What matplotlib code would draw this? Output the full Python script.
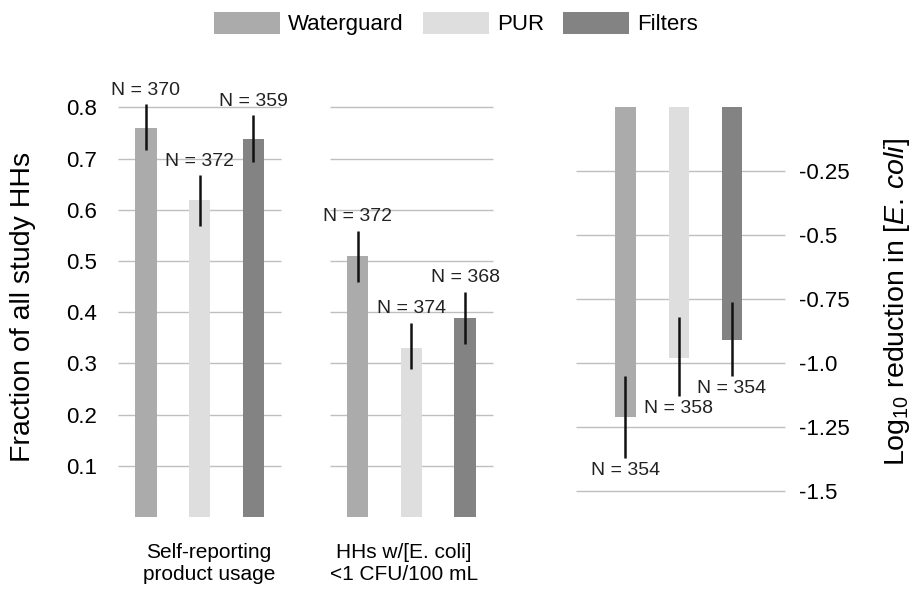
import matplotlib
matplotlib.use("Agg")
import matplotlib.pyplot as plt
from matplotlib.patches import Patch

plt.rcParams['font.family'] = ['Liberation Sans', 'DejaVu Sans']
plt.rcParams['mathtext.fontset'] = 'custom'
plt.rcParams['mathtext.rm'] = 'Liberation Sans'
plt.rcParams['mathtext.it'] = 'Liberation Sans:italic'

# ---------------- data ----------------
products = ["Waterguard", "PUR", "Filters"]
colors = ["#ababab", "#dedede", "#838383"]

left_categories = ["Self-reporting\nproduct usage", "HHs w/[E. coli]\n<1 CFU/100 mL"]
usage_vals = [0.76, 0.62, 0.738]
usage_lo = [0.716, 0.568, 0.693]
usage_hi = [0.806, 0.667, 0.784]
usage_n = [370, 372, 359]

ecoli_vals = [0.51, 0.33, 0.389]
ecoli_lo = [0.459, 0.289, 0.339]
ecoli_hi = [0.559, 0.379, 0.440]
ecoli_n = [372, 374, 368]

logred_vals = [-1.21, -0.979, -0.909]
logred_lo = [-1.37, -1.129, -1.05]
logred_hi = [-1.05, -0.821, -0.762]
logred_n = [354, 358, 354]

left_ticks = [0.1, 0.2, 0.3, 0.4, 0.5, 0.6, 0.7, 0.8]
right_ticks = [-0.25, -0.5, -0.75, -1.0, -1.25, -1.5]
right_ticklabels = ["-0.25", "-0.5", "-0.75", "-1.0", "-1.25", "-1.5"]

# ---------------- figure ----------------
W, H = 914, 592
fig = plt.figure(figsize=(W / 100, H / 100), dpi=100)

def px_axes(x0, y0, x1, y1):
    return fig.add_axes([x0 / W, 1 - y1 / H, (x1 - x0) / W, (y1 - y0) / H])

grid_c = "#bfbfbf"
bw = 0.40
half = 1.52
g_centers = [0.0, 3.94]

# Left panel
axL = px_axes(118, 107.3, 493, 517.2)
axL.set_xlim(-half, g_centers[1] + half)
axL.set_ylim(0, 0.8)
for s in axL.spines.values():
    s.set_visible(False)
axL.set_xticks([])
axL.set_yticks(left_ticks)
axL.set_yticklabels([f"{t:.1f}" for t in left_ticks])
axL.tick_params(axis='y', length=0, pad=15, labelsize=16)
for g in g_centers:
    axL.hlines(left_ticks, g - half, g + half, color=grid_c, lw=1, zorder=0, clip_on=False)

groups = [(usage_vals, usage_lo, usage_hi, usage_n), (ecoli_vals, ecoli_lo, ecoli_hi, ecoli_n)]
for g, (vals, lo, hi, ns) in zip(g_centers, groups):
    xs = [g - 1, g, g + 1]
    axL.bar(xs, vals, width=bw, color=colors, zorder=2)
    axL.vlines(xs, lo, hi, color="#111111", lw=1.8, zorder=3, clip_on=False)
    for x, h, n in zip(xs, hi, ns):
        axL.annotate(f"N = {n}", (x, h), xytext=(0, 4), textcoords="offset points",
                     ha="center", va="bottom", fontsize=14, color="#222222",
                     annotation_clip=False)

label_off = [0.17, -0.14]
for g, off, lab in zip(g_centers, label_off, left_categories):
    axL.text(g + off, -0.09, lab, ha="center", va="center", fontsize=15,
             linespacing=1.22, transform=axL.transData, clip_on=False)

fig.text(23 / W, 1 - 306.5 / H, "Fraction of all study HHs", rotation=90,
         ha="center", va="center", fontsize=20.5)

# Right panel
axR = px_axes(576, 107, 785, 491)
axR.set_xlim(-0.93, 3.0)
axR.set_ylim(-1.5, 0)
for s in axR.spines.values():
    s.set_visible(False)
axR.set_xticks([])
axR.yaxis.tick_right()
axR.set_yticks(right_ticks)
axR.set_yticklabels(right_ticklabels)
axR.tick_params(axis='y', length=0, pad=10, labelsize=16)
axR.hlines(right_ticks, -0.93, 3.0, color=grid_c, lw=1, zorder=0, clip_on=False)
xr = [0, 1, 2]
axR.bar(xr, logred_vals, width=0.38, color=colors, zorder=2)
axR.vlines(xr, logred_lo, logred_hi, color="#111111", lw=1.8, zorder=3, clip_on=False)
for x, l, n in zip(xr, logred_lo, logred_n):
    axR.annotate(f"N = {n}", (x, l), xytext=(0, -3), textcoords="offset points",
                 ha="center", va="top", fontsize=14, color="#222222",
                 annotation_clip=False)

fig.text(896.7 / W, 1 - 301.5 / H, r"Log$_{10}$ reduction in [$\mathit{E.\,coli}$]",
         rotation=90, ha="center", va="center", fontsize=20.5)

# Legend
handles = [Patch(facecolor=c, edgecolor="none", label=p) for c, p in zip(colors, products)]
fig.legend(handles=handles, loc="center", bbox_to_anchor=(456 / W, 1 - 23.5 / H),
           ncol=3, frameon=False, fontsize=16, handlelength=2.96, handleheight=1.13,
           handletextpad=0.36, columnspacing=0.87, borderpad=0, borderaxespad=0)

fig.savefig("out.png", dpi=100)
